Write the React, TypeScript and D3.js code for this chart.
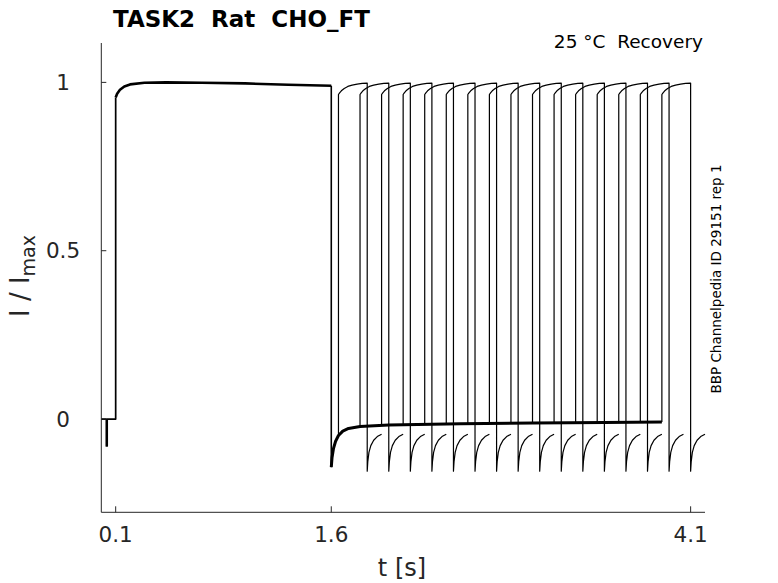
import * as d3 from "d3"

type Pt = [number, number]

// axis ticks
const xTicks = [0.1, 1.6, 4.1]
const yTicks = [0, 0.5, 1]
const yTickLabels = ["0", "0.5", "1"]

// holding level with the capacitive spike before the conditioning step
const holdTrace: Pt[] = [[0, 0], [0.035, 0], [0.035, -0.08], [0.041, -0.08], [0.041, 0], [0.1, 0]]

// conditioning pulse 0.1 .. 1.6 s
const condTrace: Pt[] = [
  [0.1, 0.955], [0.11, 0.966], [0.13, 0.978], [0.16, 0.988], [0.2, 0.994], [0.3, 0.999],
  [0.45, 1.0], [0.7, 0.999], [1.0, 0.997], [1.3, 0.993], [1.6, 0.99],
]

// tail after the conditioning pulse (shared by all sweeps)
const recoveryTrace: Pt[] = [
  [1.6, -0.143], [1.605, -0.115], [1.615, -0.088], [1.63, -0.066], [1.65, -0.049], [1.68, -0.036],
  [1.72, -0.028], [1.8, -0.022], [2.0, -0.018], [2.5, -0.014], [3.0, -0.012], [3.5, -0.01], [3.9, -0.009],
]

// test pulse onset of each sweep
const testStarts = [1.65, 1.8, 1.95, 2.1, 2.25, 2.4, 2.55, 2.7, 2.85, 3.0, 3.15, 3.3, 3.45, 3.6, 3.75, 3.9]

// test pulse shape (time from onset)
const testPulse: Pt[] = [
  [0, 0.964], [0.008, 0.969], [0.02, 0.975], [0.04, 0.982], [0.065, 0.988], [0.095, 0.992],
  [0.13, 0.995], [0.165, 0.997], [0.2, 0.998],
]

// tail after the test pulse (time from pulse end)
const testTail: Pt[] = [[0, -0.155], [0.004, -0.127], [0.012, -0.099], [0.025, -0.079], [0.045, -0.063], [0.07, -0.052], [0.1, -0.045]]
const testLength = 0.2

const W = 778
const H = 583

export default function App() {
  const x = d3.scaleLinear().domain([0, 4.2]).range([101.3, 705])
  const y = d3.scaleLinear().domain([-0.277, 1.117]).range([512.3, 43])

  const line = d3
    .line<Pt>()
    .x((d) => x(d[0]))
    .y((d) => y(d[1]))

  // baseline level at any time along the shared tail
  const base = d3
    .scaleLinear()
    .domain(recoveryTrace.map((d) => d[0]))
    .range(recoveryTrace.map((d) => d[1]))
    .clamp(true)

  const sweeps = testStarts.map((ts) => {
    const pts: Pt[] = [[ts, base(ts)]]
    testPulse.forEach((d) => pts.push([ts + d[0], d[1]]))
    testTail.forEach((d) => pts.push([ts + testLength + d[0], d[1]]))
    return pts
  })

  const axisColor = "#262626"
  const font = "DejaVu Sans, Verdana, sans-serif"

  return (
    <svg width={W} height={H} style={{ position: "absolute", left: 0, top: 0, background: "#fff" }} fontFamily={font}>
      {/* traces */}
      <g fill="none" stroke="#000" strokeLinejoin="round">
        <path d={line([...holdTrace, condTrace[0]]) ?? ""} strokeWidth={1.7} />
        <path d={line(condTrace) ?? ""} strokeWidth={2.6} />
        <path d={line([condTrace[condTrace.length - 1], recoveryTrace[0]]) ?? ""} strokeWidth={1.6} />
        <path d={line(recoveryTrace) ?? ""} strokeWidth={3} />
        {sweeps.map((s, i) => (
          <path key={i} d={line(s) ?? ""} strokeWidth={1.2} />
        ))}
      </g>

      {/* axes */}
      <g stroke={axisColor} strokeWidth={1} fill="none">
        <line x1={x.range()[0]} x2={x.range()[0]} y1={y.range()[1]} y2={y.range()[0]} />
        <line x1={x.range()[0]} x2={x.range()[1]} y1={y.range()[0]} y2={y.range()[0]} />
        {yTicks.map((t) => (
          <line key={"yt" + t} x1={x.range()[0]} x2={x.range()[0] + 5} y1={y(t)} y2={y(t)} />
        ))}
        {xTicks.map((t) => (
          <line key={"xt" + t} x1={x(t)} x2={x(t)} y1={y.range()[0]} y2={y.range()[0] - 6} />
        ))}
      </g>

      <g fill={axisColor} fontSize={21.5}>
        {yTicks.map((t, i) => (
          <text key={"yl" + t} x={63} y={y(t)} textAnchor="middle" dominantBaseline="central">
            {yTickLabels[i]}
          </text>
        ))}
        {xTicks.map((t) => (
          <text key={"xl" + t} x={x(t)} y={542} textAnchor="middle">
            {t}
          </text>
        ))}
      </g>

      {/* axis labels */}
      <text x={402} y={576} textAnchor="middle" fontSize={24} fill={axisColor}>
        t [s]
      </text>
      <text transform="translate(29,276) rotate(-90)" textAnchor="middle" fontSize={26} fill={axisColor} style={{ whiteSpace: "pre" }}>
        I / I<tspan fontSize={19} dy={6}>max</tspan>
      </text>

      {/* titles */}
      <text x={113} y={27} fontSize={23} fontWeight="bold" fill="#000" style={{ whiteSpace: "pre" }}>
        TASK2  Rat  CHO_FT
      </text>
      <text x={703} y={48} textAnchor="end" fontSize={18.5} fill="#000" style={{ whiteSpace: "pre" }}>
        25 °C  Recovery
      </text>
      <text transform="translate(721,279) rotate(-90)" textAnchor="middle" fontSize={13.5} fill="#000">
        BBP Channelpedia ID 29151 rep 1
      </text>
    </svg>
  )
}
